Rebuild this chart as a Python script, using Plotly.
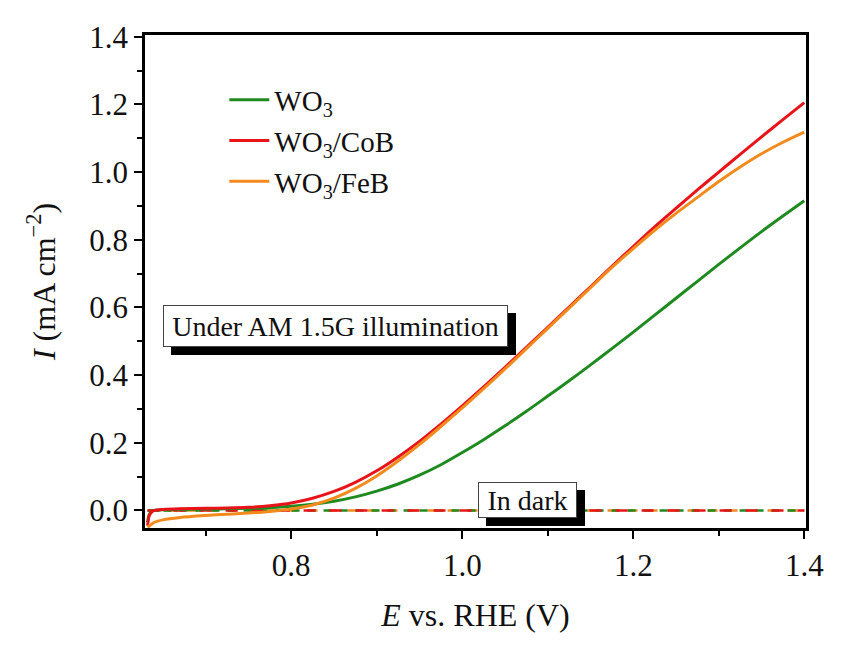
import plotly.graph_objects as go

# ---- data ----
E = [0.632, 0.634, 0.637, 0.64, 0.65, 0.67, 0.70, 0.725, 0.75, 0.775, 0.80, 0.825, 0.85, 0.875,
     0.90, 0.925, 0.95, 0.975, 1.00, 1.025, 1.05, 1.075, 1.10, 1.125, 1.15, 1.175,
     1.20, 1.225, 1.25, 1.275, 1.30, 1.325, 1.35, 1.375, 1.40]
I_WO3 = [-0.035, -0.012, -0.003, 0.0, 0.002, 0.003, 0.004, 0.005, 0.006, 0.008, 0.012, 0.018,
         0.027, 0.04, 0.057, 0.078, 0.104, 0.135, 0.171, 0.209, 0.25, 0.293, 0.338, 0.383,
         0.43, 0.478, 0.527, 0.577, 0.627, 0.677, 0.727, 0.776, 0.824, 0.87, 0.915]
I_CoB = [-0.045, -0.015, -0.004, 0.0, 0.003, 0.005, 0.006, 0.007, 0.009, 0.014, 0.022, 0.036,
         0.056, 0.083, 0.117, 0.158, 0.204, 0.255, 0.309, 0.365, 0.423, 0.482, 0.541, 0.601,
         0.661, 0.721, 0.78, 0.838, 0.893, 0.947, 1.0, 1.052, 1.104, 1.155, 1.205]
I_FeB = [-0.05, -0.046, -0.04, -0.035, -0.028, -0.021, -0.015, -0.011, -0.008, -0.003, 0.004,
         0.016, 0.036, 0.065, 0.102, 0.146, 0.195, 0.248, 0.303, 0.36, 0.418, 0.478, 0.538,
         0.598, 0.658, 0.718, 0.774, 0.828, 0.878, 0.925, 0.972, 1.015, 1.054, 1.088, 1.118]
E_dark = [0.632, 1.40]
I_dark = [0.0, 0.0]

names = ["WO<sub>3</sub>", "WO<sub>3</sub>/CoB", "WO<sub>3</sub>/FeB"]
colors = ["#1f8a1f", "#e8141a", "#f28a1e"]

FONT = "Liberation Serif, Times New Roman, serif"

fig = go.Figure()

# dark (dashed) curves
fig.add_trace(go.Scatter(x=E_dark, y=I_dark, mode="lines", showlegend=False,
                         line=dict(color=colors[2], width=2.5, dash="10px,10px")))
fig.add_trace(go.Scatter(x=E_dark, y=I_dark, mode="lines", showlegend=False,
                         line=dict(color=colors[0], width=2.5, dash="8px,8px")))
fig.add_trace(go.Scatter(x=E_dark, y=I_dark, mode="lines", showlegend=False,
                         line=dict(color=colors[1], width=2.5, dash="12px,14px")))

# light curves
for y, n, c in [(I_WO3, names[0], colors[0]), (I_CoB, names[1], colors[1]), (I_FeB, names[2], colors[2])]:
    fig.add_trace(go.Scatter(x=E, y=y, mode="lines", name=n,
                             line=dict(color=c, width=3, shape="spline", smoothing=0.8)))

# annotations with drop shadows
def boxed(text, x, y, w, h):
    fig.add_annotation(x=x, y=y, xref="paper", yref="paper", text=text, showarrow=False,
                       xanchor="center", yanchor="middle",
                       font=dict(family=FONT, size=28, color="black"),
                       bgcolor="black", bordercolor="black", borderwidth=1, borderpad=4,
                       width=w, height=h, xshift=8, yshift=-8)
    fig.add_annotation(x=x, y=y, xref="paper", yref="paper", text=text, showarrow=False,
                       xanchor="center", yanchor="middle",
                       font=dict(family=FONT, size=28, color="#111"),
                       bgcolor="white", bordercolor="#444", borderwidth=1, borderpad=4,
                       width=w, height=h)

boxed("Under AM 1.5G illumination", 0.288, 0.41, 335, 32)
boxed("In dark", 0.579, 0.057, 89, 26)

axis_common = dict(
    showline=True, linecolor="black", linewidth=2.5, mirror=True,
    ticks="outside", ticklen=8, tickwidth=2, tickcolor="black",
    showgrid=False, zeroline=False,
    tickfont=dict(family=FONT, size=31, color="#111"),
)

fig.update_xaxes(range=[0.629, 1.402], tick0=0.8, dtick=0.2, tickformat=".1f",
                 minor=dict(ticks="outside", ticklen=5, tickwidth=2, tickcolor="black", dtick=0.1, tick0=0.7),
                 title=dict(text="<i>E</i> vs. RHE (V)", font=dict(family=FONT, size=32, color="#111"), standoff=22),
                 **axis_common)
fig.update_yaxes(range=[-0.052, 1.405], tick0=0, dtick=0.2, tickformat=".1f",
                 minor=dict(ticks="outside", ticklen=5, tickwidth=2, tickcolor="black", dtick=0.1, tick0=0.1),
                 title=dict(text="<i>I</i> (mA cm<sup>\u22122</sup>)", font=dict(family=FONT, size=32, color="#111"), standoff=25),
                 **axis_common)

fig.update_layout(
    width=849, height=652,
    margin=dict(l=145, r=43, t=35, b=124),
    paper_bgcolor="white", plot_bgcolor="white",
    font=dict(family=FONT, size=28, color="#111"),
    legend=dict(x=0.12, y=0.92, xanchor="left", yanchor="top", bgcolor="rgba(0,0,0,0)",
                font=dict(family=FONT, size=29), itemwidth=40, tracegroupgap=0),
)

fig.write_html("out.html")
